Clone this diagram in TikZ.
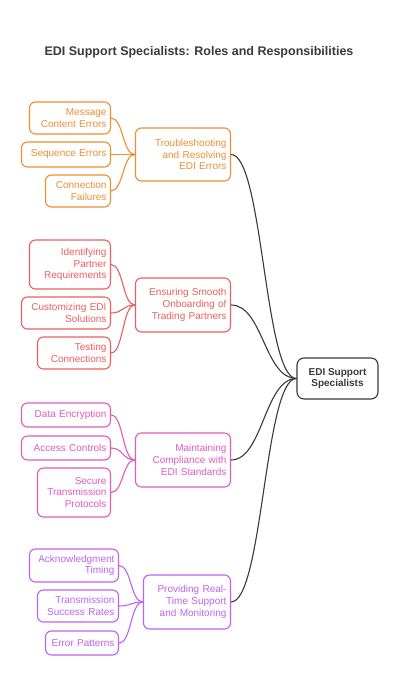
\documentclass[tikz,border=0pt]{standalone}
\usepackage{fontspec}
\setmainfont{Liberation Sans}
\definecolor{corange}{HTML}{EB9034}
\definecolor{cred}{HTML}{EC5F5F}
\definecolor{cpink}{HTML}{E05BBE}
\definecolor{cpurple}{HTML}{BF63EE}
\definecolor{cdark}{HTML}{3A3A3A}
\begin{document}
\begin{tikzpicture}[x=1pt,y=-1pt,
  box/.style={draw, rounded corners=6pt, line width=1.1pt, inner xsep=4pt, inner ysep=1pt,
    align=right, anchor=east, font=\fontsize{10}{11.7}\selectfont},
  wire/.style={line width=1.1pt},
  hub/.style={draw=cdark, text=cdark, rounded corners=7pt, line width=1.1pt, align=center,
    font=\bfseries\fontsize{10}{11.7}\selectfont, minimum width=81pt, minimum height=41pt}
]
\useasboundingbox[fill=white] (0,0) rectangle (400,700);
\node[font=\bfseries\fontsize{12.5}{14}\selectfont, text=cdark] (title) at (199,52) {EDI Support Specialists: Roles and Responsibilities};

\node[hub] (c) at (337.5,378.5) {EDI Support\\Specialists};

% orange group
\begin{scope}[every node/.append style={draw=corange, text=corange}]
\node[box, text width=87pt, minimum height=53pt] (op) at (231,154.5) {Troubleshooting\\and Resolving\\EDI Errors};
\node[box, text width=73pt, minimum height=32pt] (o1) at (111,118) {Message\\Content Errors};
\node[box, text width=81pt, minimum height=25pt] (o2) at (111,154.5) {Sequence Errors};
\node[box, text width=57pt, minimum height=32pt] (o3) at (111,191) {Connection\\Failures};
\end{scope}
\begin{scope}[wire, draw=corange]
\draw (o1.east) .. controls +(12.5,0) and +(-12.5,0) .. (op.west);
\draw (o2.east) .. controls +(12.5,0) and +(-12.5,0) .. (op.west);
\draw (o3.east) .. controls +(12.5,0) and +(-12.5,0) .. (op.west);
\end{scope}

% red group
\begin{scope}[every node/.append style={draw=cred, text=cred}]
\node[box, text width=87pt, minimum height=54pt] (rp) at (231,305) {Ensuring Smooth\\Onboarding of\\Trading Partners};
\node[box, text width=73pt, minimum height=49pt] (r1) at (111,264.5) {Identifying\\Partner\\Requirements};
\node[box, text width=81pt, minimum height=32pt] (r2) at (111,313) {Customizing EDI\\Solutions};
\node[box, text width=65pt, minimum height=32pt] (r3) at (111,353) {Testing\\Connections};
\end{scope}
\begin{scope}[wire, draw=cred]
\draw (r1.east) .. controls +(12.5,0) and +(-12.5,0) .. (rp.west);
\draw (r2.east) .. controls +(12.5,0) and +(-12.5,0) .. (rp.west);
\draw (r3.east) .. controls +(12.5,0) and +(-12.5,0) .. (rp.west);
\end{scope}

% pink group
\begin{scope}[every node/.append style={draw=cpink, text=cpink}]
\node[box, text width=87pt, minimum height=54pt] (pp) at (231,460) {Maintaining\\Compliance with\\EDI Standards};
\node[box, text width=81pt, minimum height=24pt] (p1) at (111,415) {Data Encryption};
\node[box, text width=81pt, minimum height=24pt] (p2) at (111,448) {Access Controls};
\node[box, text width=65pt, minimum height=49pt] (p3) at (111,492.5) {Secure\\Transmission\\Protocols};
\end{scope}
\begin{scope}[wire, draw=cpink]
\draw (p1.east) .. controls +(12.5,0) and +(-12.5,0) .. (pp.west);
\draw (p2.east) .. controls +(12.5,0) and +(-12.5,0) .. (pp.west);
\draw (p3.east) .. controls +(12.5,0) and +(-12.5,0) .. (pp.west);
\end{scope}

% purple group
\begin{scope}[every node/.append style={draw=cpurple, text=cpurple}]
\node[box, text width=79pt, minimum height=54pt] (up) at (231,602) {Providing Real-\\Time Support\\and Monitoring};
\node[box, text width=81pt, minimum height=33pt] (u1) at (119,565.5) {Acknowledgment\\Timing};
\node[box, text width=73pt, minimum height=32pt] (u2) at (119,606) {Transmission\\Success Rates};
\node[box, text width=65pt, minimum height=24pt] (u3) at (119,643) {Error Patterns};
\end{scope}
\begin{scope}[wire, draw=cpurple]
\draw (u1.east) .. controls +(12.5,0) and +(-12.5,0) .. (up.west);
\draw (u2.east) .. controls +(12.5,0) and +(-12.5,0) .. (up.west);
\draw (u3.east) .. controls +(12.5,0) and +(-12.5,0) .. (up.west);
\end{scope}

% main connectors
\begin{scope}[wire, draw=cdark]
\draw (op.east) .. controls +(32,0) and +(-32,0) .. (c.west);
\draw (rp.east) .. controls +(32,0) and +(-32,0) .. (c.west);
\draw (pp.east) .. controls +(32,0) and +(-32,0) .. (c.west);
\draw (up.east) .. controls +(32,0) and +(-32,0) .. (c.west);
\end{scope}
\end{tikzpicture}
\end{document}
